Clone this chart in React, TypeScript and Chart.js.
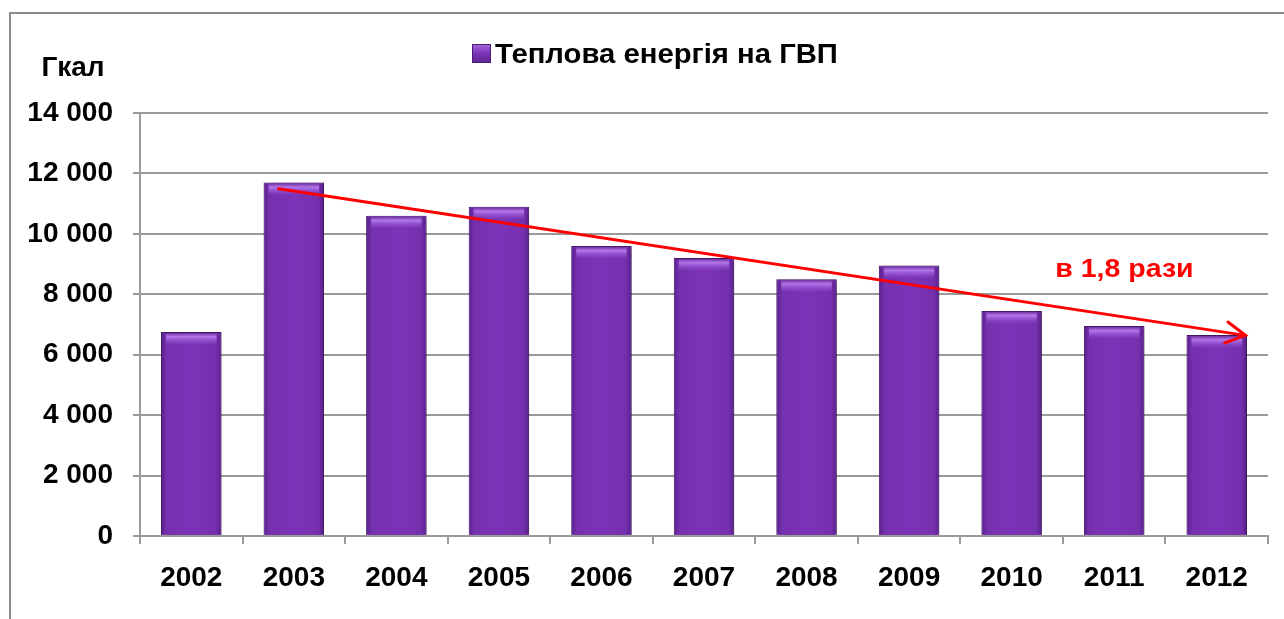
import React, { useEffect, useRef } from "react";
import { Chart, registerables } from "chart.js";

Chart.register(...registerables);

const categories = ["2002", "2003", "2004", "2005", "2006", "2007", "2008", "2009", "2010", "2011", "2012"];
const heatValues = [6750, 11700, 10600, 10900, 9600, 9200, 8500, 8950, 7450, 6950, 6650];
const yTickValues = [0, 2000, 4000, 6000, 8000, 10000, 12000, 14000];
const seriesLabel = "Теплова енергія на ГВП";
const unitLabel = "Гкал";
const trendLabel = "в 1,8 рази";
// trend arrow: [category index (fractional), value]
const trendStart = [0.85, 11490];
const trendEnd = [10.28, 6640];
const trendLabelPos = [9.1, 8560];

const FONT = "'Liberation Sans', Arial, sans-serif";
const GRID = "#9a9a9a";

const fmt = (v: number) => {
  const s = String(Math.round(v));
  return s.replace(/\B(?=(\d{3})+(?!\d))/g, " ");
};

const decorPlugin = {
  id: "decor",
  beforeDraw(chart: any) {
    const ctx = chart.ctx;
    ctx.save();
    ctx.fillStyle = "#ffffff";
    ctx.fillRect(0, 0, chart.width, chart.height);
    ctx.strokeStyle = "#8c8c8c";
    ctx.lineWidth = 2;
    ctx.strokeRect(10, 13, chart.width + 40, chart.height + 40);
    ctx.restore();
  },
  beforeDatasetsDraw(chart: any) {
    const ctx = chart.ctx;
    ctx.save();
    ctx.shadowColor = "rgba(0,0,0,0.3)";
    ctx.shadowBlur = 5;
    ctx.shadowOffsetX = 3;
    ctx.shadowOffsetY = 1;
  },
  afterDatasetsDraw(chart: any) {
    const ctx = chart.ctx;
    ctx.restore();
    ctx.save();
    const meta = chart.getDatasetMeta(0);
    meta.data.forEach((el: any) => {
      const left = el.x - el.width / 2 + 1;
      const right = el.x + el.width / 2 - 1;
      const top = el.y + 1;
      const bottom = el.base - 1;
      const w = right - left;
      const g = ctx.createLinearGradient(left, 0, right, 0);
      g.addColorStop(0, "#5c2290");
      g.addColorStop(0.08, "#7530ae");
      g.addColorStop(0.5, "#7d33b8");
      g.addColorStop(0.92, "#7530ae");
      g.addColorStop(1, "#5c2290");
      ctx.fillStyle = g;
      ctx.fillRect(left, top, w, bottom - top);
      const tg = ctx.createLinearGradient(0, top, 0, top + 12);
      tg.addColorStop(0, "rgba(110,50,160,0.9)");
      tg.addColorStop(0.3, "rgba(185,125,240,0.9)");
      tg.addColorStop(1, "rgba(150,90,215,0)");
      ctx.fillStyle = tg;
      ctx.fillRect(left + 4, top, w - 8, 12);
    });

    // trend arrow
    const xs = chart.scales.x;
    const ys = chart.scales.y;
    const x1 = xs.getPixelForValue(trendStart[0]);
    const y1 = ys.getPixelForValue(trendStart[1]);
    const x2 = xs.getPixelForValue(trendEnd[0]);
    const y2 = ys.getPixelForValue(trendEnd[1]);
    ctx.strokeStyle = "#ff0000";
    ctx.lineWidth = 3;
    ctx.lineCap = "round";
    ctx.beginPath();
    ctx.moveTo(x1, y1);
    ctx.lineTo(x2, y2);
    ctx.stroke();
    const ang = Math.atan2(y2 - y1, x2 - x1);
    const len = 22;
    const spread = 0.5;
    ctx.beginPath();
    ctx.moveTo(x2 - len * Math.cos(ang - spread), y2 - len * Math.sin(ang - spread));
    ctx.lineTo(x2, y2);
    ctx.lineTo(x2 - len * Math.cos(ang + spread), y2 - len * Math.sin(ang + spread));
    ctx.stroke();

    ctx.fillStyle = "#ff0000";
    ctx.font = `bold 25px ${FONT}`;
    ctx.textAlign = "center";
    ctx.textBaseline = "alphabetic";
    const tx = xs.getPixelForValue(trendLabelPos[0]);
    const ty = ys.getPixelForValue(trendLabelPos[1]);
    ctx.translate(tx, ty);
    ctx.scale(1.14, 1);
    ctx.fillText(trendLabel, 0, 0);
    ctx.restore();
  },
  afterDraw(chart: any) {
    const ctx = chart.ctx;
    ctx.save();
    ctx.fillStyle = "#000000";
    ctx.font = `bold 28px ${FONT}`;
    ctx.textAlign = "center";
    ctx.textBaseline = "alphabetic";
    ctx.fillText(unitLabel, 73, 76);

    // legend
    const sx = 472, sy = 44, ss = 19;
    const lg = ctx.createLinearGradient(sx, sy, sx, sy + ss);
    lg.addColorStop(0, "#a868e0");
    lg.addColorStop(0.5, "#7a34b4");
    lg.addColorStop(1, "#5c2490");
    ctx.fillStyle = lg;
    ctx.fillRect(sx, sy, ss, ss);
    ctx.strokeStyle = "#4a1d70";
    ctx.lineWidth = 1;
    ctx.strokeRect(sx + 0.5, sy + 0.5, ss - 1, ss - 1);
    ctx.fillStyle = "#000000";
    ctx.textAlign = "left";
    ctx.translate(495, 63);
    ctx.scale(1.045, 1);
    ctx.fillText(seriesLabel, 0, 0);
    ctx.restore();
  },
};

export default function App() {
  const ref = useRef<HTMLCanvasElement | null>(null);
  useEffect(() => {
    if (!ref.current) return;
    const chart = new Chart(ref.current, {
      type: "bar",
      data: {
        labels: categories,
        datasets: [
          {
            label: seriesLabel,
            data: heatValues,
            backgroundColor: "#7a34b0",
            borderColor: "#45196a",
            borderWidth: 1,
            categoryPercentage: 1,
            barPercentage: 0.59,
          },
        ],
      },
      options: {
        animation: false,
        responsive: true,
        maintainAspectRatio: false,
        layout: { padding: { top: 113, right: 16, bottom: 0, left: 0 } },
        plugins: {
          legend: { display: false },
          tooltip: { enabled: false },
          title: { display: false },
        },
        scales: {
          x: {
            offset: true,
            grid: {
              offset: true,
              drawOnChartArea: false,
              drawTicks: true,
              tickLength: 8,
              color: GRID,
              lineWidth: 2,
            },
            border: { display: true, color: GRID, width: 2 },
            ticks: {
              color: "#000",
              padding: 17,
              font: { family: FONT, size: 28, weight: "bold" },
              maxRotation: 0,
              autoSkip: false,
            },
            afterFit: (axis: any) => {
              axis.height = 83;
            },
          },
          y: {
            min: 0,
            max: 14000,
            afterBuildTicks: (axis: any) => {
              axis.ticks = yTickValues.map((v) => ({ value: v }));
            },
            grid: {
              color: GRID,
              lineWidth: 2,
              tickLength: 7,
            },
            border: { display: true, color: GRID, width: 2 },
            ticks: {
              color: "#000",
              padding: 20,
              font: { family: FONT, size: 28, weight: "bold" },
              callback: (v: any) => fmt(Number(v)),
            },
            afterFit: (axis: any) => {
              axis.width = 140;
            },
          },
        },
      },
      plugins: [decorPlugin],
    });
    return () => chart.destroy();
  }, []);
  return (
    <div style={{ position: "absolute", left: 0, top: 0, width: 1284, height: 619 }}>
      <canvas ref={ref} />
    </div>
  );
}
